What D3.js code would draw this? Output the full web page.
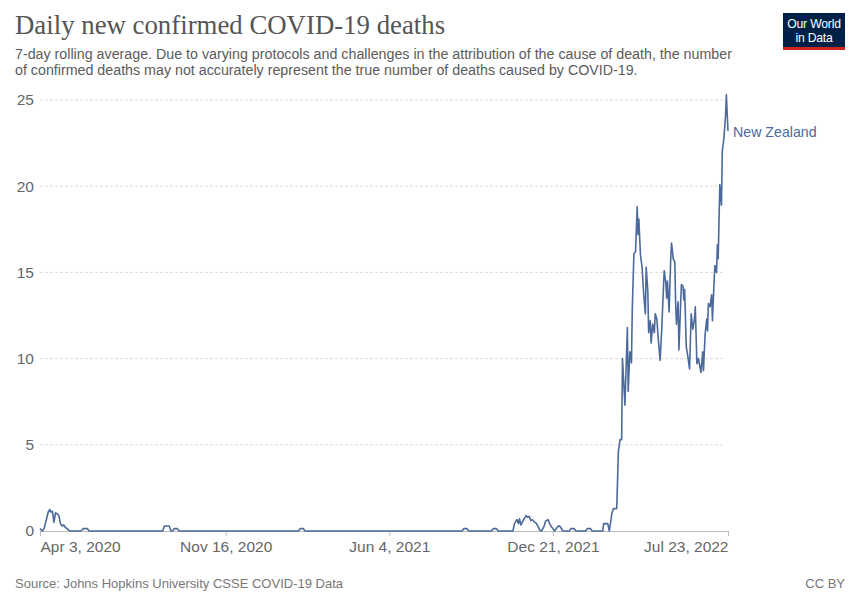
<!DOCTYPE html>
<html>
<head>
<meta charset="utf-8">
<script src="https://cdn.jsdelivr.net/npm/d3@7"></script>
<style>
  body { margin: 0; background: #fff; }
  svg { display: block; }
</style>
</head>
<body>
<svg id="chart" width="860" height="607"></svg>
<script>
// Values (7-day rolling average, New Zealand)
const dates = [
    "2020-04-03", "2020-04-06", "2020-04-08", "2020-04-11", "2020-04-13", "2020-04-15", "2020-04-16",
    "2020-04-18", "2020-04-19", "2020-04-20", "2020-04-22", "2020-04-24", "2020-04-26", "2020-04-28",
    "2020-04-30", "2020-05-02", "2020-05-04", "2020-05-06", "2020-05-08", "2020-05-10",
    "2020-05-23", "2020-05-26", "2020-05-31", "2020-06-02",
    "2020-08-31", "2020-09-02", "2020-09-08", "2020-09-10",
    "2020-09-12", "2020-09-14", "2020-09-18", "2020-09-20",
    "2021-02-13", "2021-02-15", "2021-02-19", "2021-02-21",
    "2021-09-01", "2021-09-03", "2021-09-07", "2021-09-09",
    "2021-10-07", "2021-10-09", "2021-10-13", "2021-10-15",
    "2021-11-02", "2021-11-04", "2021-11-07", "2021-11-09", "2021-11-10", "2021-11-12", "2021-11-14",
    "2021-11-16", "2021-11-18", "2021-11-20", "2021-11-22", "2021-11-24", "2021-11-26", "2021-11-28",
    "2021-12-01", "2021-12-05", "2021-12-07", "2021-12-10", "2021-12-12", "2021-12-15", "2021-12-17",
    "2021-12-19", "2021-12-21", "2021-12-23", "2021-12-25", "2021-12-28", "2021-12-30", "2022-01-02",
    "2022-01-10", "2022-01-12", "2022-01-16", "2022-01-18",
    "2022-01-30", "2022-02-01", "2022-02-05", "2022-02-07",
    "2022-02-20", "2022-02-21", "2022-02-26", "2022-02-28",
    "2022-03-03", "2022-03-05", "2022-03-09", "2022-03-11", "2022-03-13", "2022-03-15", "2022-03-16",
    "2022-03-19", "2022-03-22", "2022-03-23", "2022-03-25", "2022-03-27", "2022-03-28", "2022-03-30",
    "2022-04-01", "2022-04-03", "2022-04-04", "2022-04-05", "2022-04-07", "2022-04-09", "2022-04-11",
    "2022-04-13", "2022-04-14", "2022-04-16", "2022-04-17", "2022-04-19", "2022-04-20", "2022-04-22",
    "2022-04-24", "2022-04-25", "2022-04-27", "2022-04-29",
    "2022-05-01", "2022-05-03", "2022-05-06", "2022-05-08", "2022-05-09", "2022-05-10", "2022-05-12",
    "2022-05-14", "2022-05-15", "2022-05-17", "2022-05-19", "2022-05-20", "2022-05-21", "2022-05-23",
    "2022-05-24", "2022-05-26", "2022-05-27", "2022-05-29", "2022-05-30", "2022-05-31",
    "2022-06-02", "2022-06-04", "2022-06-06", "2022-06-08", "2022-06-10", "2022-06-12", "2022-06-13",
    "2022-06-15", "2022-06-17", "2022-06-18", "2022-06-20", "2022-06-22", "2022-06-23", "2022-06-25",
    "2022-06-27", "2022-06-28", "2022-06-29",
    "2022-07-01", "2022-07-03", "2022-07-04", "2022-07-06", "2022-07-07", "2022-07-09", "2022-07-10",
    "2022-07-11", "2022-07-13", "2022-07-15", "2022-07-16", "2022-07-18", "2022-07-20", "2022-07-21",
    "2022-07-23"
];

const deaths = [
    0.14, 0, 0.15, 0.7, 1.1, 1.25, 1.1,
    1.15, 0.9, 0.5, 1.05, 1.0, 0.9, 0.43,
    0.29, 0.35, 0.2, 0.15, 0.05, 0,
    0, 0.14, 0.14, 0,
    0, 0.29, 0.29, 0,
    0, 0.14, 0.14, 0,
    0, 0.14, 0.14, 0,
    0, 0.14, 0.14, 0,
    0, 0.14, 0.14, 0,
    0, 0.43, 0.66, 0.43, 0.71, 0.35, 0.55,
    0.71, 0.9, 0.8, 0.85, 0.6, 0.65, 0.55,
    0.43, 0.05, 0, 0.25, 0.57, 0.66, 0.43,
    0.25, 0.14, 0, 0.14, 0.3, 0.25, 0,
    0, 0.14, 0.14, 0,
    0, 0.14, 0.14, 0,
    0, 0.43, 0.43, 0,
    1.0, 1.3, 1.3, 4.6, 5.3, 5.3, 10.0,
    7.3, 11.8, 8.1, 10.4, 9.75, 12.9, 16.1,
    16.2, 18.8, 17.2, 18.1, 16.0, 15.3, 13.7,
    12.6, 15.3, 13.9, 11.5, 12.2, 10.9, 12.0,
    11.5, 12.6, 12.3, 11.0,
    9.9, 11.7, 15.1, 14.4, 13.5, 14.5, 12.7,
    15.8, 16.7, 15.8, 15.6, 13.2, 12.0, 13.3,
    10.5, 13.0, 14.3, 14.2, 13.4, 14.0,
    10.7, 10.1, 9.4, 12.6, 11.7, 12.3, 13.0,
    9.7, 10.0, 9.7, 9.2, 10.4, 9.3, 11.4,
    12.3, 11.6, 13.2,
    13.0, 13.7, 12.2, 14.5, 15.4, 15.0, 16.6,
    15.8, 20.1, 18.9, 22.0, 22.8, 24.1, 25.3,
    23.2
];

const yTicks = [0, 5, 10, 15, 20, 25];
const xTickDates = ["2020-04-03", "2020-11-16", "2021-06-04", "2021-12-21", "2022-07-23"];
const countryName = "New Zealand";

const parseDate = d3.timeParse("%Y-%m-%d");
const formatTick = d3.timeFormat("%b %-d, %Y");

const svg = d3.select("#chart");
const sans = "'Liberation Sans', Arial, sans-serif";

const margin = { top: 100, right: 132, bottom: 76, left: 40 };
const width = 860 - margin.left - margin.right;
const height = 607 - margin.top - margin.bottom;

const data = dates.map(function (d, i) {
    return { date: parseDate(d), value: deaths[i] };
});

// Header
svg.append("text")
    .attr("x", 15).attr("y", 34)
    .attr("font-family", "'Liberation Serif', Georgia, serif")
    .attr("font-size", 26.8)
    .attr("fill", "#555")
    .text("Daily new confirmed COVID-19 deaths");

const subtitle = [
    "7-day rolling average. Due to varying protocols and challenges in the attribution of the cause of death, the number",
    "of confirmed deaths may not accurately represent the true number of deaths caused by COVID-19."
];
svg.selectAll(".subtitle")
    .data(subtitle)
    .enter().append("text")
    .attr("class", "subtitle")
    .attr("x", 15)
    .attr("y", function (d, i) { return 58.5 + i * 16.5; })
    .attr("font-family", sans)
    .attr("font-size", 14.25)
    .attr("fill", "#5b5b5b")
    .text(function (d) { return d; });

// Logo
const logo = svg.append("g").attr("transform", "translate(783,13)");
logo.append("rect").attr("width", 62).attr("height", 35).attr("fill", "#002147");
logo.append("rect").attr("y", 34).attr("width", 62).attr("height", 3).attr("fill", "#ce261e");
logo.selectAll("text")
    .data(["Our World", "in Data"])
    .enter().append("text")
    .attr("x", 31)
    .attr("y", function (d, i) { return 14.5 + i * 14; })
    .attr("text-anchor", "middle")
    .attr("font-family", sans)
    .attr("font-size", 12.2)
    .attr("letter-spacing", -0.2)
    .attr("fill", "#fff")
    .text(function (d) { return d; });

const g = svg.append("g").attr("transform", "translate(" + margin.left + "," + margin.top + ")");

const x = d3.scaleTime()
    .domain([parseDate(dates[0]), parseDate(dates[dates.length - 1])])
    .range([0, width]);

const y = d3.scaleLinear()
    .domain([0, 25])
    .range([height, 0]);

// Grid
g.append("g")
    .selectAll("line")
    .data(yTicks.filter(function (t) { return t > 0; }))
    .enter().append("line")
    .attr("x1", 0).attr("x2", width - 3)
    .attr("y1", function (d) { return y(d); })
    .attr("y2", function (d) { return y(d); })
    .attr("stroke", "#ddd")
    .attr("stroke-dasharray", "3,2");

// Y axis
const yAxis = g.append("g")
    .call(d3.axisLeft(y).tickValues(yTicks).tickSize(0).tickPadding(6));
yAxis.select(".domain").remove();
yAxis.selectAll("text")
    .attr("font-family", sans)
    .attr("font-size", 15.5)
    .attr("fill", "#666");

// X axis
const xAxis = g.append("g")
    .attr("transform", "translate(0," + height + ")")
    .call(d3.axisBottom(x)
        .tickValues(xTickDates.map(parseDate))
        .tickFormat(formatTick)
        .tickSize(5)
        .tickSizeOuter(0)
        .tickPadding(5));
xAxis.select(".domain").attr("stroke", "#bbb");
xAxis.selectAll(".tick line").attr("stroke", "#bbb");
xAxis.selectAll("text")
    .attr("font-family", sans)
    .attr("font-size", 15.5)
    .attr("fill", "#666")
    .attr("text-anchor", function (d, i) {
        if (i === 0) return "start";
        if (i === xTickDates.length - 1) return "end";
        return "middle";
    });

// Line
const line = d3.line()
    .x(function (d) { return x(d.date); })
    .y(function (d) { return y(d.value); });

g.append("path")
    .datum(data)
    .attr("fill", "none")
    .attr("stroke", "#4c6a9c")
    .attr("stroke-width", 1.6)
    .attr("stroke-linejoin", "round")
    .attr("d", line);

// Series label
g.append("text")
    .attr("x", width + 5)
    .attr("y", y(23.2) + 5.5)
    .attr("font-family", sans)
    .attr("font-size", 14.2)
    .attr("fill", "#4c6a9c")
    .text(countryName);

// Footer
svg.append("text")
    .attr("x", 15).attr("y", 588)
    .attr("font-family", sans)
    .attr("font-size", 13)
    .attr("fill", "#777")
    .text("Source: Johns Hopkins University CSSE COVID-19 Data");

svg.append("text")
    .attr("x", 845).attr("y", 588)
    .attr("text-anchor", "end")
    .attr("font-family", sans)
    .attr("font-size", 13)
    .attr("fill", "#777")
    .text("CC BY");
</script>
</body>
</html>
